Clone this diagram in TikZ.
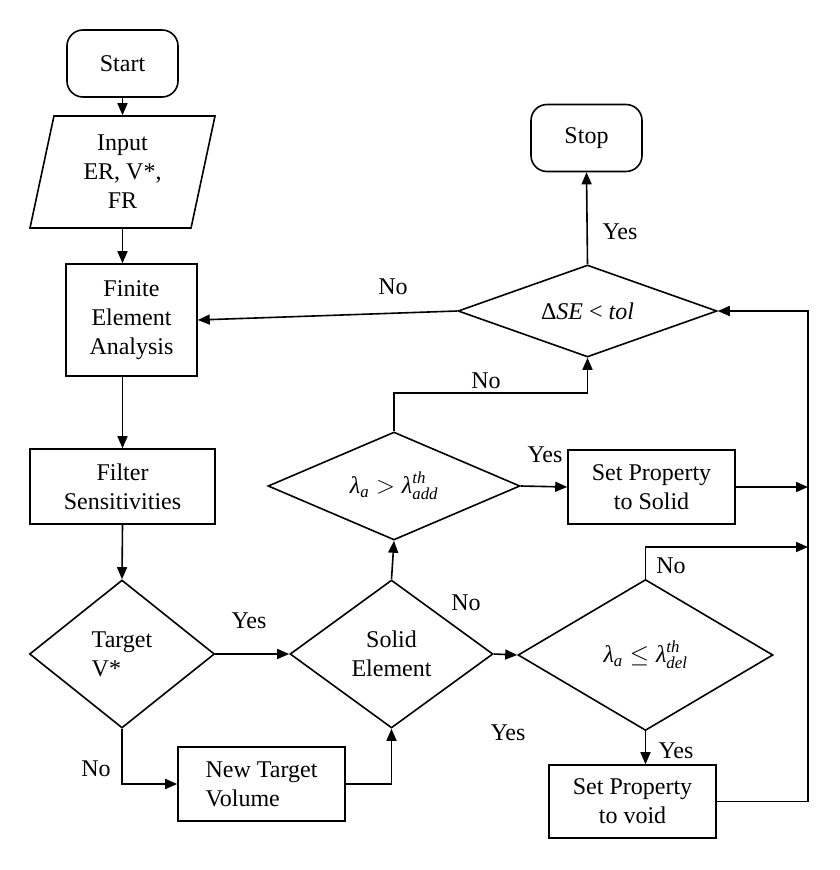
\documentclass[tikz,border=0pt]{standalone}
\usepackage{fontspec}
\setmainfont{Liberation Serif}
\usepackage{amsmath}
\usetikzlibrary{shapes.geometric,arrows.meta}

\begin{document}
\begin{tikzpicture}[x=1pt,y=1pt,yscale=-1,xscale=1,
  every node/.style={font=\fontsize{24}{29}\selectfont},
  line width=1.6pt,
  arr/.style={-{Triangle[length=12pt,width=10pt]}},
  term/.style={draw,rounded corners=16pt,minimum width=111pt,minimum height=67pt},
  io/.style={draw,trapezium,trapezium left angle=72,trapezium right angle=108,trapezium stretches body,minimum width=185pt,minimum height=112pt,align=center,inner sep=0pt},
  proc/.style={draw,align=center,inner sep=2pt,minimum width=167pt,minimum height=74pt},
  dec/.style={draw,diamond,align=center,inner sep=1pt}]

\useasboundingbox (0,0) rectangle (840,870);

%Shape: Terminals
\node [term] (start) at (122.5,63.5) {Start};
\node [term] (stop) at (586.5,138) {Stop};
%Shape: Input
\node [io] (input) at (122.5,172) {Input\\ER, V*,\\FR};
%Shape: Rectangles
\node [proc,minimum width=131pt,minimum height=112pt] (fea) at (131.5,320) {Finite\\Element\\Analysis};
\node [proc,minimum width=185pt,minimum height=75pt] (filter) at (122.5,486.5) {Filter\\Sensitivities};
\node [proc,align=left] (newvol) at (261.5,784) {New Target\\Volume};
\node [proc] (setsolid) at (651.5,487) {Set Property\\to Solid};
\node [proc,minimum height=73pt] (setvoid) at (632.5,801.5) {Set Property\\to void};
%Shape: Diamonds
\node [dec,minimum width=185pt,minimum height=148pt,aspect=1.25,align=left] (target) at (122,654) {Target\\V*};
\node [dec,minimum width=203pt,minimum height=148pt,aspect=1.37] (solid) at (391.5,654) {Solid\\Element};
\node [dec,minimum width=252pt,minimum height=108pt,aspect=2.33] (lamadd) at (394,486) {$\textit{λ}_{\textit{a}} > \textit{λ}^{\textit{th}}_{\textit{add}}$};
\node [dec,minimum width=255pt,minimum height=151pt,aspect=1.69] (lamdel) at (645.5,655) {$\textit{λ}_{\textit{a}} \le \textit{λ}^{\textit{th}}_{\textit{del}}$};
\node [dec,minimum width=259pt,minimum height=92pt,aspect=2.8] (dse) at (587.5,311) {\textup{Δ}\textit{SE} < \textit{tol}};

%Return line
\coordinate (railtop) at (808,311);
\coordinate (railmid) at (808,547);

%Straight Lines
\draw [arr] (start.south) -- (start.south |- input.north);
\draw [arr] (start.south |- input.south) -- (start.south |- fea.north);
\draw [arr] (filter.north |- fea.south) -- (filter.north);
\draw [arr] (filter.south) -- (target.north);
\draw [arr] (target.east) -- (solid.west);
\draw [arr] (target.south) |- (newvol.west);
\draw [arr] (newvol.east) -| (solid.south);
\draw [arr] (solid.north) -- (lamadd.south);
\draw [arr] (lamadd.north) -- ++(0,-38) -| (dse.south);
\draw [arr] (lamadd.east) -- (setsolid.west);
\draw [arr] (setsolid.east) -- (setsolid.east -| railtop);
\draw [arr] (dse.north) -- (stop.south);
\draw [arr] (dse.west) -- (fea.east);
\draw [arr] (solid.east) -- (lamdel.west);
\draw [arr] (lamdel.north) |- (railmid);
\draw [arr] (lamdel.south) -- (lamdel.south |- setvoid.north);
\draw [arr] (setvoid.east) -| (railtop) -- (dse.east);

%Labels
\node (yes1) at (249,621) {Yes};
\node (no1) at (96,769) {No};
\node (no2) at (393,287) {No};
\node (yes2) at (620,232) {Yes};
\node (no3) at (486,381) {No};
\node (yes3) at (545,455) {Yes};
\node (no4) at (466,603) {No};
\node (yes4) at (508,733) {Yes};
\node (no5) at (671,566) {No};
\node (yes5) at (676,751) {Yes};

\end{tikzpicture}
\end{document}
